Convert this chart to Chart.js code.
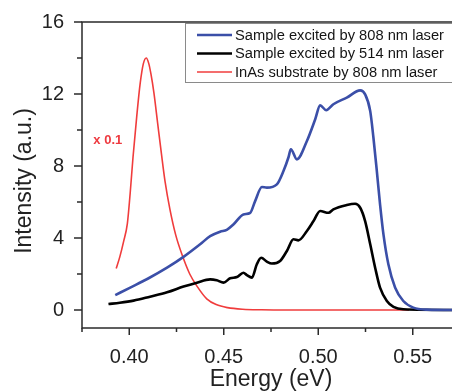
<!DOCTYPE html>
<html><head><meta charset="utf-8">
<script src="https://cdn.jsdelivr.net/npm/chart.js@4/dist/chart.umd.min.js"></script>
<style>html,body{margin:0;padding:0;background:#fff;overflow:hidden;width:452px;height:391px}
#wrap{position:relative;width:462px;height:391px}</style>
</head><body><div id="wrap"><canvas id="c" width="462" height="391"></canvas></div>
<script>
const seriesLabels = ['Sample excited by 808 nm laser', 'Sample excited by 514 nm laser', 'InAs substrate by 808 nm laser'];
const xTickValues = [0.40, 0.45, 0.50, 0.55];
const xMinorValues = [0.375, 0.425, 0.475, 0.525];
const yTickValues = [0, 4, 8, 12, 16];
const yMinorValues = [2, 6, 10, 14];

const blueX = [0.3926, 0.400, 0.410, 0.420, 0.4287, 0.4375, 0.4428, 0.4481, 0.4516, 0.4552, 0.4604, 0.4640, 0.4666, 0.4702, 0.4728, 0.4781, 0.4816, 0.4843, 0.4855, 0.4887, 0.4940, 0.4984, 0.5010, 0.5042, 0.5080, 0.5151, 0.5222, 0.5248, 0.5275, 0.5292, 0.5310, 0.5327, 0.5345, 0.5371, 0.5407, 0.5450, 0.5503, 0.5574, 0.5750];
const blueY = [0.83, 1.22, 1.75, 2.35, 2.95, 3.65, 4.1, 4.35, 4.45, 4.76, 5.31, 5.4, 6.05, 6.83, 6.8, 6.98, 7.72, 8.5, 8.93, 8.37, 9.39, 10.6, 11.37, 11.1, 11.43, 11.8, 12.2, 11.98, 11.05, 9.57, 7.72, 5.87, 4.2, 2.54, 1.24, 0.5, 0.13, 0.02, 0];

const blackX = [0.3890, 0.3950, 0.4023, 0.4110, 0.4200, 0.4287, 0.4358, 0.4428, 0.4463, 0.4499, 0.4534, 0.4570, 0.4604, 0.4622, 0.4649, 0.4675, 0.4698, 0.4728, 0.4754, 0.4798, 0.4834, 0.4869, 0.4895, 0.4940, 0.4975, 0.5010, 0.5054, 0.5080, 0.5151, 0.5195, 0.5222, 0.5248, 0.5275, 0.5301, 0.5327, 0.5363, 0.5398, 0.5450, 0.5750];
const blackY = [0.33, 0.4, 0.52, 0.74, 0.98, 1.3, 1.52, 1.7, 1.65, 1.52, 1.76, 1.83, 2.07, 1.94, 1.8, 2.54, 2.9, 2.69, 2.58, 2.72, 3.28, 3.93, 3.87, 4.39, 4.94, 5.5, 5.4, 5.59, 5.83, 5.9, 5.68, 4.94, 3.65, 2.35, 1.24, 0.5, 0.17, 0.04, 0];

const redX = [0.3931, 0.3950, 0.3970, 0.3990, 0.4005, 0.4020, 0.4040, 0.4058, 0.4075, 0.4090, 0.4103, 0.4115, 0.4130, 0.4150, 0.4170, 0.4190, 0.4215, 0.4245, 0.4280, 0.4320, 0.4360, 0.4410, 0.4460, 0.4520, 0.4600, 0.4700, 0.4850, 0.5050, 0.5250, 0.5480];
const redY = [2.3, 2.95, 3.8, 4.8, 6.5, 8.5, 10.8, 12.6, 13.7, 14.0, 13.7, 13.1, 12.1, 10.4, 8.7, 7.1, 5.6, 4.2, 3.05, 2.0, 1.3, 0.62, 0.3, 0.13, 0.04, 0.01, 0, 0, 0, 0];

const annotationText = 'x 0.1';
const annotationPos = [0.381, 9.4];
const xTitle = 'Energy (eV)';
const yTitle = 'Intensity (a.u.)';

const FONT = '"Liberation Sans", Arial, sans-serif';
const pts = (xs, ys) => xs.map((x, i) => ({x: x, y: ys[i]}));

const decor = {
  id: 'decor',
  afterDraw(chart) {
    const ctx = chart.ctx, a = chart.chartArea;
    const xs = chart.scales.x, ys = chart.scales.y;
    ctx.save();
    // frame
    ctx.strokeStyle = '#2a2a2a';
    ctx.lineWidth = 1.5;
    ctx.strokeRect(a.left, a.top, a.right - a.left, a.bottom - a.top);
    // tick marks
    ctx.lineWidth = 1.5;
    ctx.beginPath();
    yTickValues.forEach(v => { const p = ys.getPixelForValue(v); ctx.moveTo(a.left - 8, p); ctx.lineTo(a.left, p); });
    yMinorValues.forEach(v => { const p = ys.getPixelForValue(v); ctx.moveTo(a.left - 5, p); ctx.lineTo(a.left, p); });
    xTickValues.forEach(v => { const p = xs.getPixelForValue(v); ctx.moveTo(p, a.bottom); ctx.lineTo(p, a.bottom + 7); });
    xMinorValues.forEach(v => { const p = xs.getPixelForValue(v); ctx.moveTo(p, a.bottom); ctx.lineTo(p, a.bottom + 4); });
    ctx.stroke();
    // y title
    ctx.fillStyle = '#222';
    ctx.font = '23px ' + FONT;
    ctx.translate(24.5, 181);
    ctx.rotate(-Math.PI / 2);
    ctx.textAlign = 'center';
    ctx.textBaseline = 'middle';
    ctx.fillText(yTitle, 0, 0);
    ctx.restore();

    // annotation
    ctx.save();
    ctx.fillStyle = '#ee3a40';
    ctx.font = 'bold 13px ' + FONT;
    ctx.textAlign = 'left';
    ctx.textBaseline = 'middle';
    ctx.fillText(annotationText, xs.getPixelForValue(annotationPos[0]), ys.getPixelForValue(annotationPos[1]));
    ctx.restore();

    // legend
    ctx.save();
    const lx = 185, ly = 23, lh = 59;
    ctx.fillStyle = '#fff';
    ctx.fillRect(lx, ly, 300, lh);
    ctx.strokeStyle = '#8a8a8a';
    ctx.lineWidth = 1;
    ctx.strokeRect(lx + 0.5, ly + 0.5, 300, lh);
    ctx.font = '14.7px ' + FONT;
    ctx.textBaseline = 'middle';
    ctx.textAlign = 'left';
    chart.data.datasets.forEach((ds, i) => {
      const y = 35 + i * 18.5;
      ctx.strokeStyle = ds.borderColor;
      ctx.lineWidth = ds.borderWidth;
      ctx.beginPath(); ctx.moveTo(197, y); ctx.lineTo(232, y); ctx.stroke();
      ctx.fillStyle = '#151515';
      ctx.fillText(ds.label, 235, y + 0.5);
    });
    ctx.restore();
  }
};

new Chart(document.getElementById('c'), {
  type: 'line',
  data: {
    datasets: [
      {label: seriesLabels[0], data: pts(blueX, blueY), borderColor: '#3b4fa8', borderWidth: 2.6},
      {label: seriesLabels[1], data: pts(blackX, blackY), borderColor: '#000000', borderWidth: 2.6},
      {label: seriesLabels[2], data: pts(redX, redY), borderColor: '#f03c3c', borderWidth: 1.6}
    ]
  },
  options: {
    responsive: false,
    animation: false,
    devicePixelRatio: 1,
    layout: {padding: {left: 0, top: 21, right: 2, bottom: 0}},
    elements: {point: {radius: 0}, line: {cubicInterpolationMode: 'monotone', fill: false}},
    plugins: {legend: {display: false}, tooltip: {enabled: false}},
    scales: {
      x: {
        type: 'linear', min: 0.375, max: 0.575,
        afterFit(s) { s.height = 63; },
        afterBuildTicks(s) { s.ticks = xTickValues.map(v => ({value: v})); },
        grid: {display: false},
        border: {display: false},
        ticks: {font: {family: FONT, size: 20}, color: '#222', padding: 9, maxRotation: 0, callback: v => Number(v).toFixed(2)},
        title: {display: true, text: xTitle, font: {family: FONT, size: 23, lineHeight: 1}, color: '#222', padding: 0}
      },
      y: {
        type: 'linear', min: -1, max: 16,
        afterFit(s) { s.width = 82; },
        afterBuildTicks(s) { s.ticks = yTickValues.map(v => ({value: v})); },
        grid: {display: false},
        border: {display: false},
        ticks: {font: {family: FONT, size: 20}, color: '#222', padding: 10, callback: v => String(v)}
      }
    }
  },
  plugins: [decor]
});
</script>
</body></html>
